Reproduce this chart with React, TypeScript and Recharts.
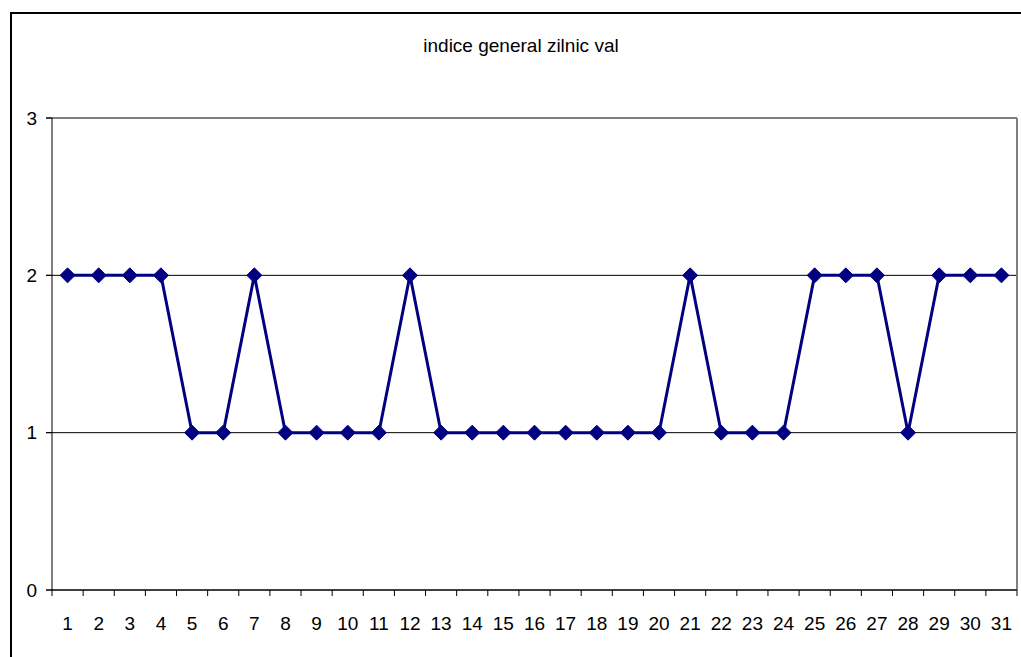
import React from 'react';
import { LineChart, Line, XAxis, YAxis, CartesianGrid, ReferenceLine } from 'recharts';

const days = [1,2,3,4,5,6,7,8,9,10,11,12,13,14,15,16,17,18,19,20,21,22,23,24,25,26,27,28,29,30,31];
const values = [2,2,2,2,1,1,2,1,1,1,1,2,1,1,1,1,1,1,1,1,2,1,1,1,2,2,2,1,2,2,2];
const yTicks = [0,1,2,3];
const title = 'indice general zilnic val';

const data = days.map((d, i) => ({ day: d, v: values[i] }));

const NAVY = '#000080';
const FONT = '"Liberation Sans", Arial, sans-serif';
const TICK_LEN = 6;

const Diamond = (props: any) => {
  const { cx, cy } = props;
  if (cx == null || cy == null) return null;
  const r = 7.5;
  return (
    <polygon
      points={`${cx},${cy - r} ${cx + r},${cy} ${cx},${cy + r} ${cx - r},${cy}`}
      fill={NAVY}
      stroke={NAVY}
      strokeWidth={1}
    />
  );
};

const XTick = (props: any) => {
  const { x, y, payload, width, index } = props;
  const half = width / days.length / 2;
  const axisY = y - 27;
  return (
    <g>
      {index === 0 ? <line x1={x - half} x2={x - half} y1={axisY} y2={axisY + TICK_LEN} stroke="#000" strokeWidth={1} /> : null}
      <line x1={x + half} x2={x + half} y1={axisY} y2={axisY + TICK_LEN} stroke="#000" strokeWidth={1} />
      <text x={x} y={y} dy="0.71em" textAnchor="middle" fontFamily={FONT} fontSize={19} fill="#000">
        {payload.value}
      </text>
    </g>
  );
};

const YTickMark = (props: any) => {
  const { x, y, payload } = props;
  return (
    <g>
      <line x1={x + 9} x2={x + 9 + TICK_LEN} y1={y} y2={y} stroke="#000" strokeWidth={1} />
      <text x={x} y={y} dy="0.355em" textAnchor="end" fontFamily={FONT} fontSize={19} fill="#000">
        {payload.value}
      </text>
    </g>
  );
};

export default function App() {
  return (
    <div style={{ position: 'absolute', left: 0, top: 0, width: 1021, height: 657, overflow: 'hidden', background: '#fff' }}>
      <div style={{ position: 'absolute', left: 10, top: 12, width: 1100, height: 800, border: '2px solid #000', boxSizing: 'border-box' }} />
      <svg width={1021} height={657} style={{ position: 'absolute', left: 0, top: 0 }}>
        <text x={521} y={52} textAnchor="middle" fontFamily={FONT} fontSize={19} fill="#000">{title}</text>
      </svg>
      <div style={{ position: 'absolute', left: 0, top: 0 }}>
        <LineChart width={1021} height={657} data={data} margin={{ top: 118, right: 4, bottom: 0, left: 0 }}>
          <CartesianGrid vertical={false} stroke="#000" strokeWidth={1} />
          <XAxis
            dataKey="day"
            type="number"
            domain={[0.5, 31.5]}
            ticks={days}
            interval={0}
            height={67}
            tickSize={5}
            tickMargin={22}
            axisLine={{ stroke: '#000', strokeWidth: 1 }}
            tickLine={false}
            tick={<XTick />}
            allowDataOverflow
          />
          <YAxis
            domain={[0, 3]}
            ticks={yTicks}
            interval={0}
            width={52}
            tickSize={TICK_LEN}
            tickMargin={9}
            axisLine={{ stroke: '#000', strokeWidth: 1 }}
            tickLine={{ stroke: '#000', strokeWidth: 1 }}
            tick={<YTickMark />}
          />
          <ReferenceLine y={3} stroke="#808080" strokeWidth={2} />
          <ReferenceLine x={31.5} stroke="#808080" strokeWidth={2} />
          <Line
            dataKey="v"
            stroke={NAVY}
            strokeWidth={3}
            dot={<Diamond />}
            activeDot={false}
            isAnimationActive={false}
          />
        </LineChart>
      </div>
    </div>
  );
}
